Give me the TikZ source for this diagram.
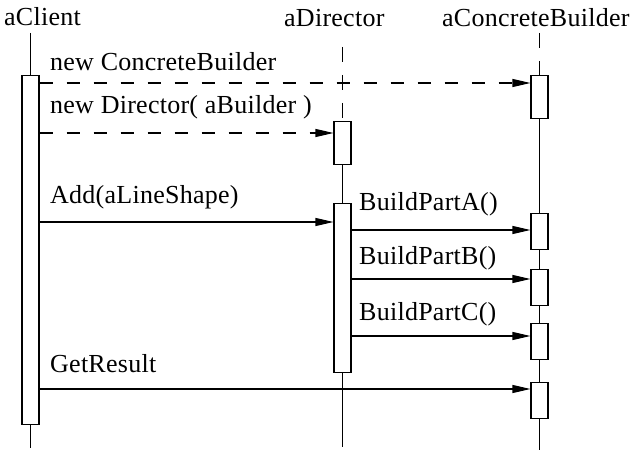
\documentclass[tikz,border=0pt]{standalone}
\usepackage{fontspec}
\setmainfont{Liberation Serif}[LetterSpace=1]
\usetikzlibrary{arrows.meta}
\pgfdeclarelayer{bg}
\pgfsetlayers{bg,main}
\begin{document}
\begin{tikzpicture}[x=1pt,y=-1pt,
  every node/.style={font=\fontsize{26}{30}\selectfont},
  lbl/.style={anchor=base west, inner sep=0pt},
  act/.style={draw, fill=white, line width=1.1pt, minimum width=17pt, inner sep=0pt, anchor=north},
  life/.style={line width=1.1pt},
  lifedash/.style={line width=1.1pt, dash pattern=on 15pt off 13pt},
  msg/.style={line width=1.1pt, -{Triangle[length=18pt,width=8pt]}},
  msgdash/.style={msg, dash pattern=on 13pt off 14pt}]
\useasboundingbox (0,0) rectangle (637,454);

% headers
\node[lbl] (hc) at (4,26) {aClient};
\node[lbl] (hd) at (284,27) {aDirector};
\node[lbl] (hb) at (442,27) {aConcreteBuilder};

% activation boxes
\node[act, minimum height=349pt] (cact) at (30.5,75) {};
\node[act, minimum height=43pt] (dact1) at (342.5,121) {};
\node[act, minimum height=169pt] (dact2) at (342.5,203) {};
\node[act, minimum height=43pt] (bact1) at (539.5,75) {};
\node[act, minimum height=36pt] (bact2) at (539.5,213) {};
\node[act, minimum height=36pt] (bact3) at (539.5,269) {};
\node[act, minimum height=36pt] (bact4) at (539.5,323) {};
\node[act, minimum height=36pt] (bact5) at (539.5,382) {};

% lifeline ends
\coordinate (ctop) at (30.5,33);
\coordinate (cbot) at (30.5,448);
\coordinate (dtop) at (342.5,47);
\coordinate (dbot) at (342.5,447);
\coordinate (btop) at (539.5,33);
\coordinate (bbot) at (539.5,450);

\begin{pgfonlayer}{bg}
  \draw[life] (ctop) -- (cbot);
  \draw[lifedash] (dtop) -- (dact1.north);
  \draw[life] (dact1.south) -- (dbot);
  \draw[lifedash] (btop) -- (bact1.north);
  \draw[life] (bact1.south) -- (bbot);
\end{pgfonlayer}

% message heights
\coordinate (m1) at (0,83);
\coordinate (m2) at (0,133);
\coordinate (m3) at (0,222);
\coordinate (m4) at (0,230);
\coordinate (m5) at (0,279);
\coordinate (m6) at (0,336);
\coordinate (m7) at (0,389);

\draw[msgdash] (cact.east |- m1) -- (bact1.west |- m1);
\draw[msgdash] (cact.east |- m2) -- (dact1.west |- m2);
\draw[msg] (cact.east |- m3) -- (dact2.west |- m3);
\draw[msg] (dact2.east |- m4) -- (bact2.west |- m4);
\draw[msg] (dact2.east |- m5) -- (bact3.west |- m5);
\draw[msg] (dact2.east |- m6) -- (bact4.west |- m6);
\draw[msg] (cact.east |- m7) -- (bact5.west |- m7);

% message labels
\node[lbl] (l1) at (50,71) {new ConcreteBuilder};
\node[lbl] (l2) at (50,114) {new Director( aBuilder )};
\node[lbl] (l3) at (50,204) {Add(aLineShape)};
\node[lbl] (l4) at (359,211) {BuildPartA()};
\node[lbl] (l5) at (359,265) {BuildPartB()};
\node[lbl] (l6) at (359,320) {BuildPartC()};
\node[lbl] (l7) at (50,372) {GetResult};
\end{tikzpicture}
\end{document}
